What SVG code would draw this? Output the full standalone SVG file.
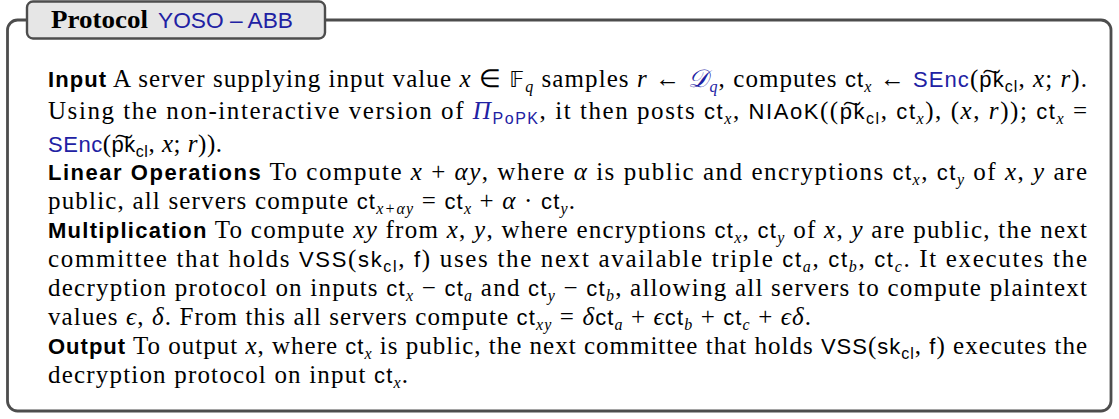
<svg xmlns="http://www.w3.org/2000/svg" width="1119" height="419" viewBox="0 0 1119 419">
<style>
.t{font-family:"Liberation Serif",serif;font-size:25px;fill:#000}
.sf{font-family:"Liberation Sans",sans-serif;font-size:22px}
.b{font-weight:bold}
.i{font-style:italic}
.blue{fill:#2121a3}
.sub{font-size:16px;baseline-shift:-5px}
.m{font-family:"DejaVu Sans","Noto Sans",sans-serif;font-size:22px}
.frame{fill:#fff;stroke:#4d4d4d;stroke-width:2.8}
.tbox{fill:#e6e6e6;stroke:#4d4d4d;stroke-width:2.4}
</style>
<g id="frame"><rect class="frame" x="7.5" y="20" width="1103.5" height="391" rx="10"/></g>
<g id="title">
<rect class="tbox" x="27" y="1.5" width="298" height="37" rx="6"/>
<text class="t b" x="51" y="28" textLength="97" lengthAdjust="spacingAndGlyphs">Protocol</text>
<text class="sf blue" x="158" y="28" textLength="135" lengthAdjust="spacingAndGlyphs">YOSO – ABB</text>
</g>
<g id="body">
<text class="t" x="48" y="87" textLength="1039" lengthAdjust="spacing"><tspan class="sf b">Input</tspan> A server supplying input value <tspan class="i">x</tspan> ∈ <tspan class="m">𝔽</tspan><tspan class="sub i">q</tspan> samples <tspan class="i">r</tspan> ← <tspan class="blue i">𝒟<tspan class="sub">q</tspan></tspan>, computes <tspan class="sf">ct</tspan><tspan class="sub i">x</tspan> ← <tspan class="sf blue">SEnc</tspan>(<tspan class="sf">p͠k</tspan><tspan class="sf sub">cl</tspan>, <tspan class="i">x</tspan>; <tspan class="i">r</tspan>).</text>
<text class="t" x="48" y="119" textLength="1039" lengthAdjust="spacing">Using the non-interactive version of <tspan class="blue i">Π</tspan><tspan class="sf sub blue">PoPK</tspan>, it then posts <tspan class="sf">ct</tspan><tspan class="sub i">x</tspan>,  <tspan class="sf">NIAoK</tspan>((<tspan class="sf">p͠k</tspan><tspan class="sf sub">cl</tspan>, <tspan class="sf">ct</tspan><tspan class="sub i">x</tspan>), (<tspan class="i">x</tspan>, <tspan class="i">r</tspan>)); <tspan class="sf">ct</tspan><tspan class="sub i">x</tspan> =</text>
<text class="t" x="48" y="152" textLength="174" lengthAdjust="spacing"><tspan class="sf blue">SEnc</tspan>(<tspan class="sf">p͠k</tspan><tspan class="sf sub">cl</tspan>, <tspan class="i">x</tspan>; <tspan class="i">r</tspan>)).</text>
<text class="t" x="48" y="180" textLength="1039" lengthAdjust="spacing"><tspan class="sf b">Linear Operations</tspan> To compute <tspan class="i">x</tspan> + <tspan class="i">αy</tspan>, where <tspan class="i">α</tspan> is public and encryptions <tspan class="sf">ct</tspan><tspan class="sub i">x</tspan>, <tspan class="sf">ct</tspan><tspan class="sub i">y</tspan> of <tspan class="i">x</tspan>, <tspan class="i">y</tspan> are</text>
<text class="t" x="48" y="209" textLength="527" lengthAdjust="spacing">public, all servers compute <tspan class="sf">ct</tspan><tspan class="sub i">x+αy</tspan> = <tspan class="sf">ct</tspan><tspan class="sub i">x</tspan> + <tspan class="i">α</tspan> · <tspan class="sf">ct</tspan><tspan class="sub i">y</tspan>.</text>
<text class="t" x="48" y="238" textLength="1039" lengthAdjust="spacing"><tspan class="sf b">Multiplication</tspan> To compute <tspan class="i">xy</tspan> from <tspan class="i">x</tspan>, <tspan class="i">y</tspan>, where encryptions <tspan class="sf">ct</tspan><tspan class="sub i">x</tspan>, <tspan class="sf">ct</tspan><tspan class="sub i">y</tspan> of <tspan class="i">x</tspan>, <tspan class="i">y</tspan> are public, the next</text>
<text class="t" x="48" y="267" textLength="1039" lengthAdjust="spacing">committee that holds <tspan class="sf">VSS</tspan>(<tspan class="sf">sk</tspan><tspan class="sf sub">cl</tspan>, <tspan class="sf">f</tspan>) uses the next available triple <tspan class="sf">ct</tspan><tspan class="sub i">a</tspan>, <tspan class="sf">ct</tspan><tspan class="sub i">b</tspan>, <tspan class="sf">ct</tspan><tspan class="sub i">c</tspan>. It executes the</text>
<text class="t" x="48" y="296" textLength="1039" lengthAdjust="spacing">decryption protocol on inputs <tspan class="sf">ct</tspan><tspan class="sub i">x</tspan> − <tspan class="sf">ct</tspan><tspan class="sub i">a</tspan> and <tspan class="sf">ct</tspan><tspan class="sub i">y</tspan> − <tspan class="sf">ct</tspan><tspan class="sub i">b</tspan>, allowing all servers to compute plaintext</text>
<text class="t" x="48" y="325" textLength="763" lengthAdjust="spacing">values <tspan class="i">ϵ</tspan>, <tspan class="i">δ</tspan>. From this all servers compute <tspan class="sf">ct</tspan><tspan class="sub i">xy</tspan> = <tspan class="i">δ</tspan><tspan class="sf">ct</tspan><tspan class="sub i">a</tspan> + <tspan class="i">ϵ</tspan><tspan class="sf">ct</tspan><tspan class="sub i">b</tspan> + <tspan class="sf">ct</tspan><tspan class="sub i">c</tspan> + <tspan class="i">ϵδ</tspan>.</text>
<text class="t" x="48" y="354" textLength="1039" lengthAdjust="spacing"><tspan class="sf b">Output</tspan> To output <tspan class="i">x</tspan>, where <tspan class="sf">ct</tspan><tspan class="sub i">x</tspan> is public, the next committee that holds <tspan class="sf">VSS</tspan>(<tspan class="sf">sk</tspan><tspan class="sf sub">cl</tspan>, <tspan class="sf">f</tspan>) executes the</text>
<text class="t" x="48" y="383" textLength="360" lengthAdjust="spacing">decryption protocol on input <tspan class="sf">ct</tspan><tspan class="sub i">x</tspan>.</text>
</g>
</svg>
